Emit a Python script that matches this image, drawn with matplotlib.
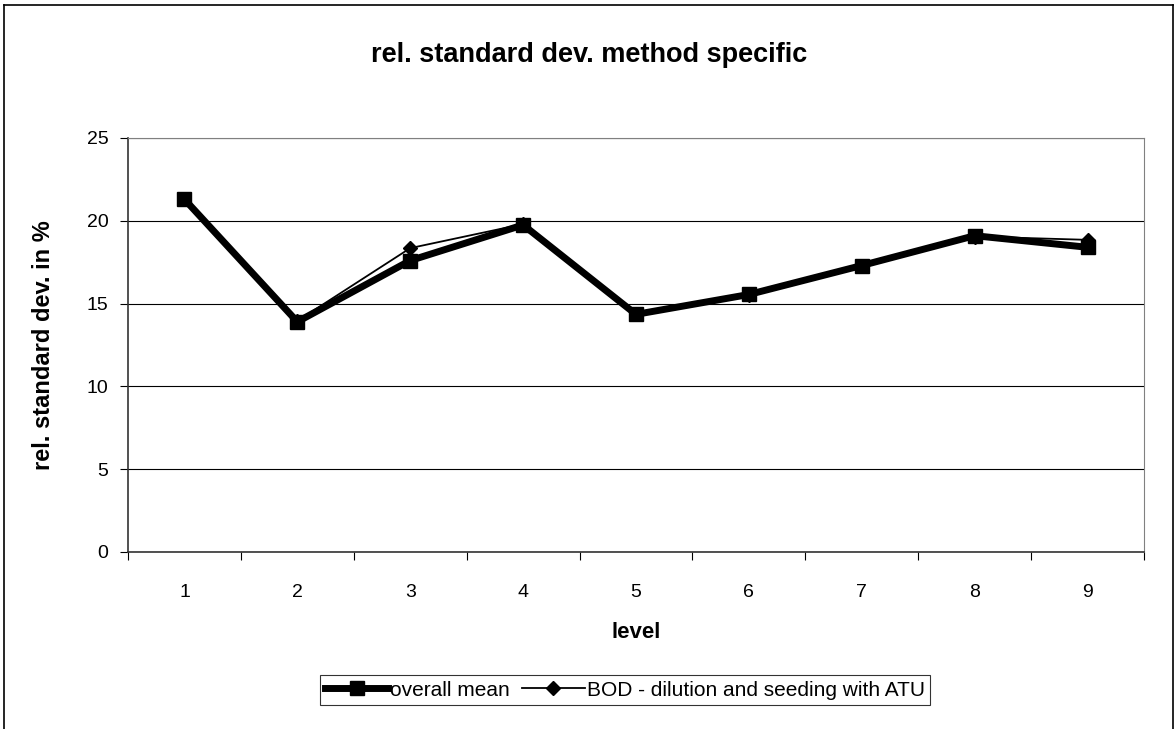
import matplotlib.pyplot as plt
from matplotlib.lines import Line2D

plt.rcParams['font.family'] = ['Liberation Sans', 'DejaVu Sans']

# data
levels = [1, 2, 3, 4, 5, 6, 7, 8, 9]
overall_mean = [21.3, 13.9, 17.6, 19.75, 14.35, 15.55, 17.3, 19.1, 18.4]
bod_atu = [21.3, 13.95, 18.35, 19.8, 14.35, 15.5, 17.3, 19.05, 18.85]

W, H = 1175, 729
fig = plt.figure(figsize=(W / 100, H / 100), dpi=100)
ax = fig.add_axes([128 / W, 1 - 552 / H, (1144 - 128) / W, (552 - 138) / H])

# chart area border (left, top, right; bottom cut off)
for xs, ys in [([4, 4], [5, H]), ([4, 1173], [5, 5]), ([1173, 1173], [5, H])]:
    fig.add_artist(Line2D([x / W for x in xs], [1 - y / H for y in ys],
                          color='black', lw=1.2, transform=fig.transFigure))

ax.plot(levels, overall_mean, color='black', lw=5, marker='s', ms=10,
        label='overall mean', zorder=3, solid_joinstyle='miter')
ax.plot(levels, bod_atu, color='black', lw=1.3, marker='D', ms=7,
        label='BOD - dilution and seeding with ATU', zorder=4)

ax.set_ylim(0, 25)
ax.set_yticks(range(0, 26, 5))
ax.set_xlim(0.5, 9.5)
ax.set_xticks([x + 0.5 for x in range(0, 10)])
ax.set_xticklabels([])
ax.set_xticks(levels, minor=True)
ax.set_xticklabels([str(l) for l in levels], minor=True)
ax.tick_params(axis='x', which='major', length=6, direction='out', width=0.8)
ax.tick_params(axis='x', which='minor', length=0, pad=23, labelsize=14)
ax.tick_params(axis='y', length=6, direction='out', width=0.8, labelsize=14, pad=8)

ax.grid(axis='y', color='black', lw=0.8)
ax.set_axisbelow(True)
for s in ['top', 'right']:
    ax.spines[s].set_color('#808080')
for s in ['left', 'bottom']:
    ax.spines[s].set_color('#333333')
    ax.spines[s].set_linewidth(1.2)

ax.set_xlabel('level', fontsize=16, fontweight='bold', labelpad=15)
ax.set_ylabel('rel. standard dev. in %', fontsize=17, fontweight='bold', labelpad=23)
fig.text(589 / W, 1 - 55 / H, 'rel. standard dev. method specific',
         fontsize=19.5, fontweight='bold', ha='center', va='center')

leg = fig.legend(loc='center', bbox_to_anchor=(625 / W, 1 - 690 / H), ncol=2,
                 fontsize=15, frameon=True, fancybox=False, shadow=False,
                 edgecolor='black', handlelength=3.0, handletextpad=0.1,
                 columnspacing=0.6, borderpad=0.25, borderaxespad=0)
leg.get_frame().set_linewidth(0.8)

fig.savefig('out.png', dpi=100, facecolor='white')
